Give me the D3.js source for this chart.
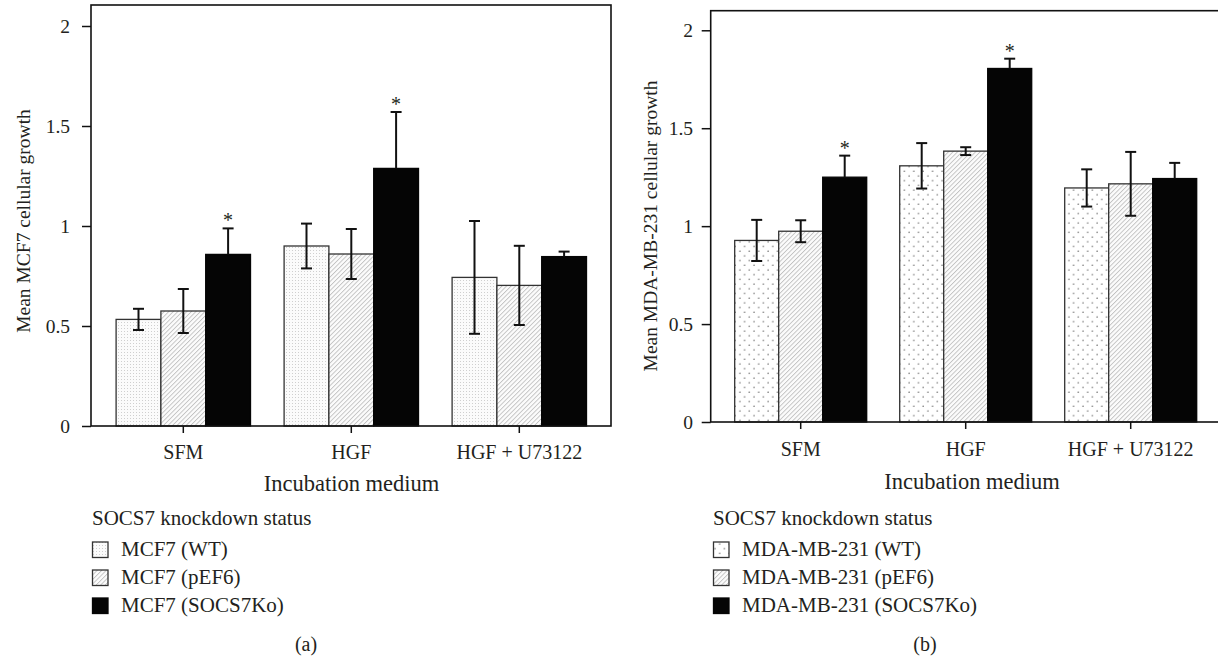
<!DOCTYPE html>
<html><head><meta charset="utf-8">
<script src="https://cdn.jsdelivr.net/npm/d3@7"></script>
<style>
html,body{margin:0;padding:0;background:#fff;}
svg text{font-family:"Liberation Serif","DejaVu Serif","Noto Serif",serif !important;fill:#231f20;}
</style></head>
<body>
<script>
// ---------- data ----------
const categories = ["SFM", "HGF", "HGF + U73122"];
const yTicks = [0, 0.5, 1, 1.5, 2];

const mcf7Series = ["MCF7 (WT)", "MCF7 (pEF6)", "MCF7 (SOCS7Ko)"];
const mcf7WT      = [0.533, 0.900, 0.743];
const mcf7WTErr   = [0.053, 0.112, 0.282];
const mcf7PEF6    = [0.575, 0.860, 0.703];
const mcf7PEF6Err = [0.110, 0.125, 0.198];
const mcf7Ko      = [0.858, 1.288, 0.847];
const mcf7KoErr   = [0.130, 0.282, 0.025];
const mcf7Sig     = [[2, 0], [2, 1]]; // [seriesIndex, categoryIndex]

const mdaSeries = ["MDA-MB-231 (WT)", "MDA-MB-231 (pEF6)", "MDA-MB-231 (SOCS7Ko)"];
const mdaWT      = [0.927, 1.308, 1.195];
const mdaWTErr   = [0.105, 0.116, 0.095];
const mdaPEF6    = [0.974, 1.383, 1.216];
const mdaPEF6Err = [0.056, 0.020, 0.163];
const mdaKo      = [1.250, 1.805, 1.243];
const mdaKoErr   = [0.110, 0.050, 0.080];
const mdaSig     = [[2, 0], [2, 1]];

const legendTitle = "SOCS7 knockdown status";
const xTitle = "Incubation medium";

// ---------- svg ----------
const svg = d3.select("body").append("svg").attr("width", 1218).attr("height", 659);
const defs = svg.append("defs");

const p1 = defs.append("pattern").attr("id", "dotsFine").attr("patternUnits", "userSpaceOnUse")
  .attr("width", 3).attr("height", 3);
p1.append("rect").attr("width", 3).attr("height", 3).attr("fill", "#fbfbfb");
p1.append("rect").attr("x", 1).attr("y", 1).attr("width", 1).attr("height", 1).attr("fill", "#cfcfcf");

const p2 = defs.append("pattern").attr("id", "dotsSparse").attr("patternUnits", "userSpaceOnUse")
  .attr("width", 9.4).attr("height", 9.4);
p2.append("rect").attr("width", 9.4).attr("height", 9.4).attr("fill", "#fff");
p2.append("circle").attr("cx", 2).attr("cy", 2).attr("r", 0.7).attr("fill", "#444");
p2.append("circle").attr("cx", 6.7).attr("cy", 6.7).attr("r", 0.7).attr("fill", "#444");

const p3 = defs.append("pattern").attr("id", "hatch").attr("patternUnits", "userSpaceOnUse")
  .attr("width", 3.2).attr("height", 3.2).attr("patternTransform", "rotate(45)");
p3.append("rect").attr("width", 3.2).attr("height", 3.2).attr("fill", "#fcfcfc");
p3.append("line").attr("x1", 0.5).attr("y1", 0).attr("x2", 0.5).attr("y2", 3.2)
  .attr("stroke", "#b4b4b4").attr("stroke-width", 0.75);

function drawPanel(cfg) {
  const g = svg.append("g");
  const y = d3.scaleLinear().domain([0, cfg.yTop]).range([cfg.frame.y1, cfg.frame.y0]);
  const x = d3.scaleBand().domain(categories).range(cfg.xRange).paddingInner(0.2).paddingOuter(0.1);
  const xs = d3.scaleBand().domain(cfg.series).range([0, x.bandwidth()]);

  const fills = [cfg.wtFill, "url(#hatch)", "#050505"];
  const rows = [];
  cfg.series.forEach((s, si) => {
    categories.forEach((c, ci) => {
      rows.push({s, si, c, ci, v: cfg.means[si][ci], e: cfg.errs[si][ci]});
    });
  });

  g.selectAll("rect.bar").data(rows).join("rect").attr("class", "bar")
    .attr("x", d => x(d.c) + xs(d.s))
    .attr("y", d => y(d.v))
    .attr("width", xs.bandwidth())
    .attr("height", d => y(0) - y(d.v))
    .attr("fill", d => fills[d.si])
    .attr("stroke", d => d.si === 2 ? "#050505" : "#333")
    .attr("stroke-width", 1.3);

  const cx = d => x(d.c) + xs(d.s) + xs.bandwidth() / 2;
  // error bars: lower half hidden inside solid black bars
  const lowV = d => d.si === 2 ? d.v : d.v - d.e;
  const eg = g.append("g").attr("stroke", "#111").attr("stroke-width", 2).attr("fill", "none");
  eg.selectAll("line.v").data(rows).join("line").attr("class", "v")
    .attr("x1", cx).attr("x2", cx).attr("y1", d => y(lowV(d))).attr("y2", d => y(d.v + d.e));
  eg.selectAll("line.t").data(rows).join("line").attr("class", "t")
    .attr("x1", d => cx(d) - 5.5).attr("x2", d => cx(d) + 5.5)
    .attr("y1", d => y(d.v + d.e)).attr("y2", d => y(d.v + d.e));
  eg.selectAll("line.b").data(rows.filter(d => d.si !== 2)).join("line").attr("class", "b")
    .attr("x1", d => cx(d) - 5.5).attr("x2", d => cx(d) + 5.5)
    .attr("y1", d => y(d.v - d.e)).attr("y2", d => y(d.v - d.e));

  const sigRows = cfg.sig.map(([si, ci]) => rows.find(r => r.si === si && r.ci === ci));
  g.selectAll("text.sig").data(sigRows).join("text").attr("class", "sig")
    .attr("x", cx).attr("y", d => y(d.v + d.e) - 1)
    .attr("text-anchor", "middle").attr("font-size", 20).text("*");

  const ya = g.append("g").attr("transform", `translate(${cfg.frame.x0},0)`)
    .call(d3.axisLeft(y).tickValues(yTicks).tickSize(9).tickPadding(cfg.yPad).tickFormat(d => String(d)));
  ya.select(".domain").remove();
  ya.selectAll(".tick line").attr("stroke", "#111").attr("stroke-width", 1.5);
  ya.selectAll(".tick text").attr("font-size", 19.5);

  const xa = g.append("g").attr("transform", `translate(0,${cfg.frame.y1})`)
    .call(d3.axisBottom(x).tickSize(7).tickPadding(cfg.xPad));
  xa.select(".domain").remove();
  xa.selectAll(".tick line").attr("stroke", "#111").attr("stroke-width", 1.5);
  xa.selectAll(".tick text").attr("font-size", 20);

  g.append("rect").attr("x", cfg.frame.x0).attr("y", cfg.frame.y0)
    .attr("width", cfg.frame.x1 - cfg.frame.x0).attr("height", cfg.frame.y1 - cfg.frame.y0)
    .attr("fill", "none").attr("stroke", "#111").attr("stroke-width", 1.6);

  g.append("text").attr("transform", `translate(${cfg.yTitleX},${cfg.yTitleY}) rotate(-90)`)
    .attr("text-anchor", "middle").attr("font-size", 19.5).text(cfg.yTitle);
  g.append("text").attr("x", cfg.xTitleX).attr("y", cfg.xTitleY)
    .attr("text-anchor", "middle").attr("font-size", 22.5).text(xTitle);

  const lg = g.append("g");
  lg.append("text").attr("x", cfg.legX).attr("y", 525).attr("font-size", 21).text(legendTitle);
  const rowsL = lg.selectAll("g.row").data(cfg.series).join("g").attr("class", "row")
    .attr("transform", (d, i) => `translate(${cfg.legX},${556 + i * 28})`);
  rowsL.append("rect").attr("x", 0.5).attr("y", -14).attr("width", 15.5).attr("height", 15.5)
    .attr("fill", (d, i) => fills[i]).attr("stroke", (d, i) => i === 2 ? "#050505" : "#333").attr("stroke-width", 1.3);
  rowsL.append("text").attr("x", cfg.legTextDx).attr("y", 0).attr("font-size", 21).text(d => d);

  g.append("text").attr("x", cfg.capX).attr("y", 651).attr("text-anchor", "middle")
    .attr("font-size", 20).text(cfg.caption);
}

drawPanel({
  series: mcf7Series,
  means: [mcf7WT, mcf7PEF6, mcf7Ko],
  errs: [mcf7WTErr, mcf7PEF6Err, mcf7KoErr],
  sig: mcf7Sig,
  wtFill: "url(#dotsFine)",
  frame: {x0: 91, x1: 611, y0: 5, y1: 426},
  yTop: 2.105,
  xRange: [99.3, 603.3],
  yPad: 12, xPad: 11.5,
  yTitle: "Mean MCF7 cellular growth", yTitleX: 30, yTitleY: 221,
  xTitleX: 351.5, xTitleY: 490.5,
  legX: 92, legTextDx: 29,
  capX: 306, caption: "(a)"
});

drawPanel({
  series: mdaSeries,
  means: [mdaWT, mdaPEF6, mdaKo],
  errs: [mdaWTErr, mdaPEF6Err, mdaKoErr],
  sig: mdaSig,
  wtFill: "url(#dotsSparse)",
  frame: {x0: 710.7, x1: 1240, y0: 10.7, y1: 422},
  yTop: 2.1,
  xRange: [718.2, 1213.2],
  yPad: 8.7, xPad: 12.5,
  yTitle: "Mean MDA-MB-231 cellular growth", yTitleX: 657, yTitleY: 226,
  xTitleX: 972, xTitleY: 489,
  legX: 713, legTextDx: 29,
  capX: 925, caption: "(b)"
});
</script>
</body></html>
